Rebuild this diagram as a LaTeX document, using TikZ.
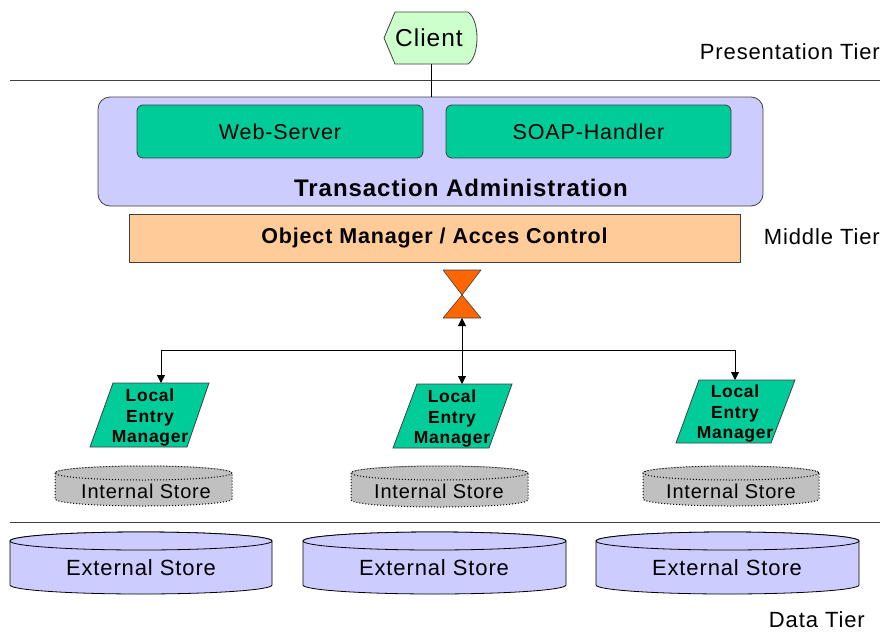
\documentclass[tikz,border=0pt]{standalone}
\usepackage{fontspec}
\setmainfont{Liberation Sans}[LetterSpace=4]
\usetikzlibrary{arrows.meta}
\definecolor{lavender}{HTML}{CCCCFF}
\definecolor{compgreen}{HTML}{00CC99}
\definecolor{peach}{HTML}{FFCC99}
\definecolor{paleclient}{HTML}{CCFFCC}
\definecolor{hgorange}{HTML}{FF6600}
\definecolor{storegray}{HTML}{C0C0C0}
\definecolor{edge}{HTML}{404040}
\newcommand\fs[1]{\fontsize{#1}{#1}\selectfont}
% cylinder: left x, right x, top-ellipse y, bottom-ellipse y, y radius, style
\newcommand\storecyl[6]{%
  \pgfmathsetmacro\cx{(#1+#2)/2}\pgfmathsetmacro\rx{(#2-#1)/2}%
  \path[#6] (#1,#3) -- (#1,#4) arc[start angle=180,end angle=0,x radius=\rx,y radius=#5]
     -- (#2,#3) arc[start angle=0,end angle=-180,x radius=\rx,y radius=#5] -- cycle;
  \path[#6] (\cx,#3) ellipse[x radius=\rx,y radius=#5];}
\tikzset{
  tierline/.style={draw=edge,line width=0.8pt},
  tierlabel/.style={anchor=east,inner sep=0pt,font=\fs{22}},
  comp/.style={draw=edge,fill=compgreen,rounded corners=6pt,line width=0.8pt,inner sep=0pt,font=\fs{21.5}},
  arr/.style={line width=0.8pt,-{Triangle[length=8pt,width=8pt]}},
  link/.style={line width=0.8pt},
  lemtext/.style={align=center,font=\bfseries\fs{17.5},inner sep=0pt,text depth=0pt},
  intstore/.style={draw=black,dotted,line width=1pt,fill=storegray},
  extstore/.style={draw=black,line width=0.8pt,fill=lavender},
  storetext/.style={inner sep=0pt}
}
\begin{document}
\begin{tikzpicture}[x=1pt,y=-1pt]
\useasboundingbox (0,0) rectangle (883,632);

% tier separators and labels
\draw[tierline] (10,80) -- (880,80);
\draw[tierline] (10,522) -- (880,522);
\node[tierlabel] (ptier) at (880,52) {Presentation Tier};
\node[tierlabel] (mtier) at (880,237) {Middle Tier};
\node[tierlabel] (dtier) at (865,620) {Data Tier};

% client display shape
\draw[edge,fill=paleclient,line width=0.8pt] (384,38) -- (395,12) -- (468,12)
   .. controls (480,20) and (480,56) .. (468,64) -- (395,64) -- cycle;
\node[font=\fs{24.5},inner sep=0pt] (client) at (429,38) {Client};
\coordinate (clientbot) at (431,64);

% transaction administration
\draw[draw=edge,fill=lavender,rounded corners=12pt,line width=0.8pt] (98,97) rectangle (763,206);
\coordinate (tatop) at (431,97);
\draw[link] (clientbot) -- (tatop);
\node[comp,minimum width=286pt,minimum height=53pt] (web) at (280,131.5) {Web-Server};
\node[comp,minimum width=285pt,minimum height=53pt] (soap) at (588.5,131.5) {SOAP-Handler};
\node[font=\bfseries\fs{24},inner sep=0pt] (ta) at (461,188) {Transaction Administration};

% object manager
\node[draw=edge,fill=peach,line width=0.8pt,minimum width=611pt,minimum height=48pt,inner sep=0pt,
      font=\bfseries\fs{21.5}] (om) at (434.5,238) {Object Manager / Acces Control};

% hourglass
\draw[draw=edge,fill=hgorange,line width=0.6pt,line join=round]
  (443,270) -- (481,270) -- (462,295) -- cycle
  (462,295) -- (481,318) -- (443,318) -- cycle;
\coordinate (hgbot) at (462,318);
\coordinate (junction) at (462,350);
\coordinate (jleft) at (161,350);
\coordinate (jright) at (735,350);

% local entry managers
\draw[draw=edge,fill=compgreen,line width=0.8pt] (113,383) -- (209,383) -- (187,447) -- (90,447) -- cycle;
\draw[draw=edge,fill=compgreen,line width=0.8pt] (417,384) -- (512,384) -- (489,448) -- (393,448) -- cycle;
\draw[draw=edge,fill=compgreen,line width=0.8pt] (699,380) -- (795,380) -- (771,443) -- (676,443) -- cycle;
\coordinate (lem1top) at (161,383);
\coordinate (lem2top) at (462,384);
\coordinate (lem3top) at (735,380);
\node[lemtext] (lem1) at (150,416) {Local\\[3pt]Entry\\[3pt]Manager};
\node[lemtext] (lem2) at (452,417) {Local\\[3pt]Entry\\[3pt]Manager};
\node[lemtext] (lem3) at (735,412) {Local\\[3pt]Entry\\[3pt]Manager};

% connectors
\draw[arr] (junction) -- (hgbot);
\draw[link] (jleft) -- (jright);
\draw[arr] (junction) -- (lem2top);
\draw[arr] (jleft) -- (lem1top);
\draw[arr] (jright) -- (lem3top);

% internal stores
\storecyl{55}{232}{473}{499}{7}{intstore}
\storecyl{351}{528}{473}{500}{7}{intstore}
\storecyl{643}{819}{473}{499}{7}{intstore}
\node[storetext,font=\fs{20}] (is1) at (146,491) {Internal Store};
\node[storetext,font=\fs{20}] (is2) at (439,491) {Internal Store};
\node[storetext,font=\fs{20}] (is3) at (731,491) {Internal Store};

% external stores
\storecyl{10}{272}{541}{585}{9}{extstore}
\storecyl{303}{566}{541}{585}{9}{extstore}
\storecyl{596}{859}{541}{585}{9}{extstore}
\node[storetext,font=\fs{22}] (es1) at (141,568) {External Store};
\node[storetext,font=\fs{22}] (es2) at (434,568) {External Store};
\node[storetext,font=\fs{22}] (es3) at (727,568) {External Store};
\end{tikzpicture}
\end{document}
